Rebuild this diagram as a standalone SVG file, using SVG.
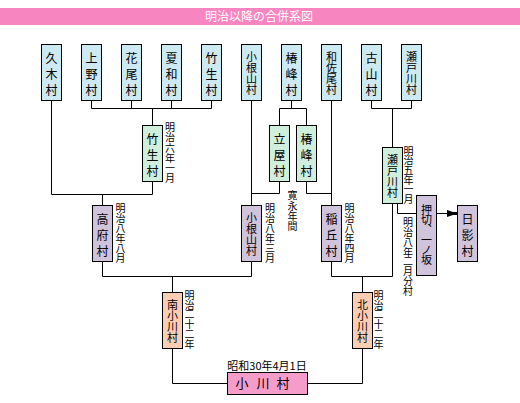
<svg xmlns="http://www.w3.org/2000/svg" width="520" height="403" viewBox="0 0 520 403">
<style>
text{font-family:"Noto Sans CJK JP","Noto Sans CJK SC",sans-serif;fill:#000}
.v{writing-mode:vertical-rl;text-anchor:start}
.b{stroke:#000;stroke-width:1}
.blue{fill:#cdeaf2}
.green{fill:#cfeedc}
.lav{fill:#d0c3dc}
.peach{fill:#fbceb3}
.pink{fill:#f59ccb}
.t3{font-size:12px;letter-spacing:4px}
.t4{font-size:11px}
.lb{font-size:10px}
.cn{fill:none;stroke:#000;stroke-width:1}
</style>
<rect x="0" y="8" width="520" height="17" fill="#f785c0"/>
<text x="259" y="21" style="font-size:12px;text-anchor:middle;fill:#fff">明治以降の合併系図</text>

<g id="connectors" class="cn">
<path d="M51.5,100.5V194.5H152.5"/>
<path d="M91.5,100.5V108.5H211.5V100.5M131.5,100.5V108.5M171.5,100.5V108.5M152.5,108.5V125.5"/>
<path d="M152.5,181.5V194.5M102.5,194.5V205.5"/>
<path d="M102.5,261.5V276.5H251.5V261.5M172.5,276.5V292.5"/>
<path d="M251.5,100.5V205.5"/>
<path d="M291.5,100.5V108.5M279.5,125.5V108.5H306.5V125.5"/>
<path d="M279.5,181.5V193.5H251.5"/>
<path d="M306.5,181.5V193.5H331.5"/>
<path d="M331.5,100.5V205.5"/>
<path d="M331.5,261.5V276.5H392.5M362.5,276.5V292.5"/>
<path d="M371.5,100.5V108.5H411.5V100.5M392.5,108.5V147.5"/>
<path d="M392.5,203.5V276.5"/>
<path d="M397.5,203.5V213.5H416.5"/>
<path d="M436.5,213.5H449"/>
<path d="M447,210L453,212H457.5V215H453L447,217Z" fill="#000" stroke="none"/>
<path d="M172.5,348.5V383.5H227.5M307.5,383.5H362.5V348.5"/>
</g>

<g id="n-kyuki"><rect class="b blue" x="41.5" y="44.5" width="20" height="56"/><text class="v t3" x="51.5" y="52.5">久木村</text></g>
<g id="n-uwano"><rect class="b blue" x="81.5" y="44.5" width="20" height="56"/><text class="v t3" x="91.5" y="52.5">上野村</text></g>
<g id="n-hanao"><rect class="b blue" x="121.5" y="44.5" width="20" height="56"/><text class="v t3" x="131.5" y="52.5">花尾村</text></g>
<g id="n-natsuwa"><rect class="b blue" x="161.5" y="44.5" width="20" height="56"/><text class="v t3" x="171.5" y="52.5">夏和村</text></g>
<g id="n-takeo"><rect class="b blue" x="201.5" y="44.5" width="20" height="56"/><text class="v t3" x="211.5" y="52.5">竹生村</text></g>
<g id="n-koneyama"><rect class="b blue" x="241.5" y="44.5" width="20" height="56"/><text class="v t4" x="251.5" y="51.5">小根山村</text></g>
<g id="n-tsubaki"><rect class="b blue" x="281.5" y="44.5" width="20" height="56"/><text class="v t3" x="291.5" y="52.5">椿峰村</text></g>
<g id="n-wasao"><rect class="b blue" x="321.5" y="44.5" width="20" height="56"/><text class="v t4" x="331.5" y="51.5">和佐尾村</text></g>
<g id="n-furuyama"><rect class="b blue" x="361.5" y="44.5" width="20" height="56"/><text class="v t3" x="371.5" y="52.5">古山村</text></g>
<g id="n-setogawa"><rect class="b blue" x="401.5" y="44.5" width="20" height="56"/><text class="v t4" x="411.5" y="51.5">瀬戸川村</text></g>

<g id="n-takeo2"><rect class="b green" x="142.5" y="125.5" width="20" height="56"/><text class="v t3" x="152.5" y="133.5">竹生村</text>
<text class="v lb" x="170" y="122.5" style="letter-spacing:0.2px">明治六年一月</text></g>
<g id="n-tateya"><rect class="b green" x="269.5" y="125.5" width="20" height="56"/><text class="v t3" x="279.5" y="133.5">立屋村</text></g>
<g id="n-tsubaki2"><rect class="b green" x="296.5" y="125.5" width="20" height="56"/><text class="v t3" x="306.5" y="133.5">椿峰村</text></g>
<text class="v lb" x="292.5" y="190.5" style="letter-spacing:0.4px">寛永年間</text>
<g id="n-setogawa2"><rect class="b green" x="382.5" y="147.5" width="20" height="56"/><text class="v t4" x="392.5" y="154.5">瀬戸川村</text>
<text class="v lb" x="408.5" y="146" style="letter-spacing:-0.4px">明治五年一月</text></g>

<g id="n-takafu"><rect class="b lav" x="92.5" y="205.5" width="20" height="56"/><text class="v t3" x="102.5" y="213.5">高府村</text>
<text class="v lb" x="120.5" y="203.3">明治八年八月</text></g>
<g id="n-koneyama2"><rect class="b lav" x="241.5" y="205.5" width="20" height="56"/><text class="v t4" x="251.5" y="212.5">小根山村</text>
<text class="v lb" x="270" y="203.3">明治八年三月</text></g>
<g id="n-inaoka"><rect class="b lav" x="321.5" y="205.5" width="20" height="56"/><text class="v t3" x="331.5" y="213.5">稲丘村</text>
<text class="v lb" x="349.5" y="203.3">明治八年四月</text></g>
<g id="n-oshikiri"><rect class="b lav" x="416.5" y="195.5" width="20" height="80"/><text class="v t4" x="426.5" y="204.5" style="letter-spacing:-1px">押切、一ノ坂</text></g>
<text class="v lb" x="408" y="217.5" style="letter-spacing:-0.25px">明治八年二月分村</text>
<g id="n-hikage"><rect class="b lav" x="457.5" y="205.5" width="20" height="56"/><text class="v t3" x="467.5" y="213.5">日影村</text></g>

<g id="n-minamiogawa"><rect class="b peach" x="162.5" y="292.5" width="20" height="56"/><text class="v t4" x="172.5" y="299.5">南小川村</text>
<text class="v lb" x="189.5" y="290" style="letter-spacing:-0.2px">明治二十二年</text></g>
<g id="n-kitaogawa"><rect class="b peach" x="352.5" y="292.5" width="20" height="56"/><text class="v t4" x="362.5" y="299.5">北小川村</text>
<text class="v lb" x="378.5" y="290" style="letter-spacing:-0.2px">明治二十二年</text></g>

<g id="n-ogawa"><rect class="b pink" x="227.5" y="372.5" width="80" height="22"/>
<text style="font-size:13px;text-anchor:middle"><tspan x="242" y="388">小</tspan><tspan x="263" y="388">川</tspan><tspan x="283" y="388">村</tspan></text>
<text x="267" y="370" style="font-size:11px;text-anchor:middle">昭和30年4月1日</text></g>
</svg>
